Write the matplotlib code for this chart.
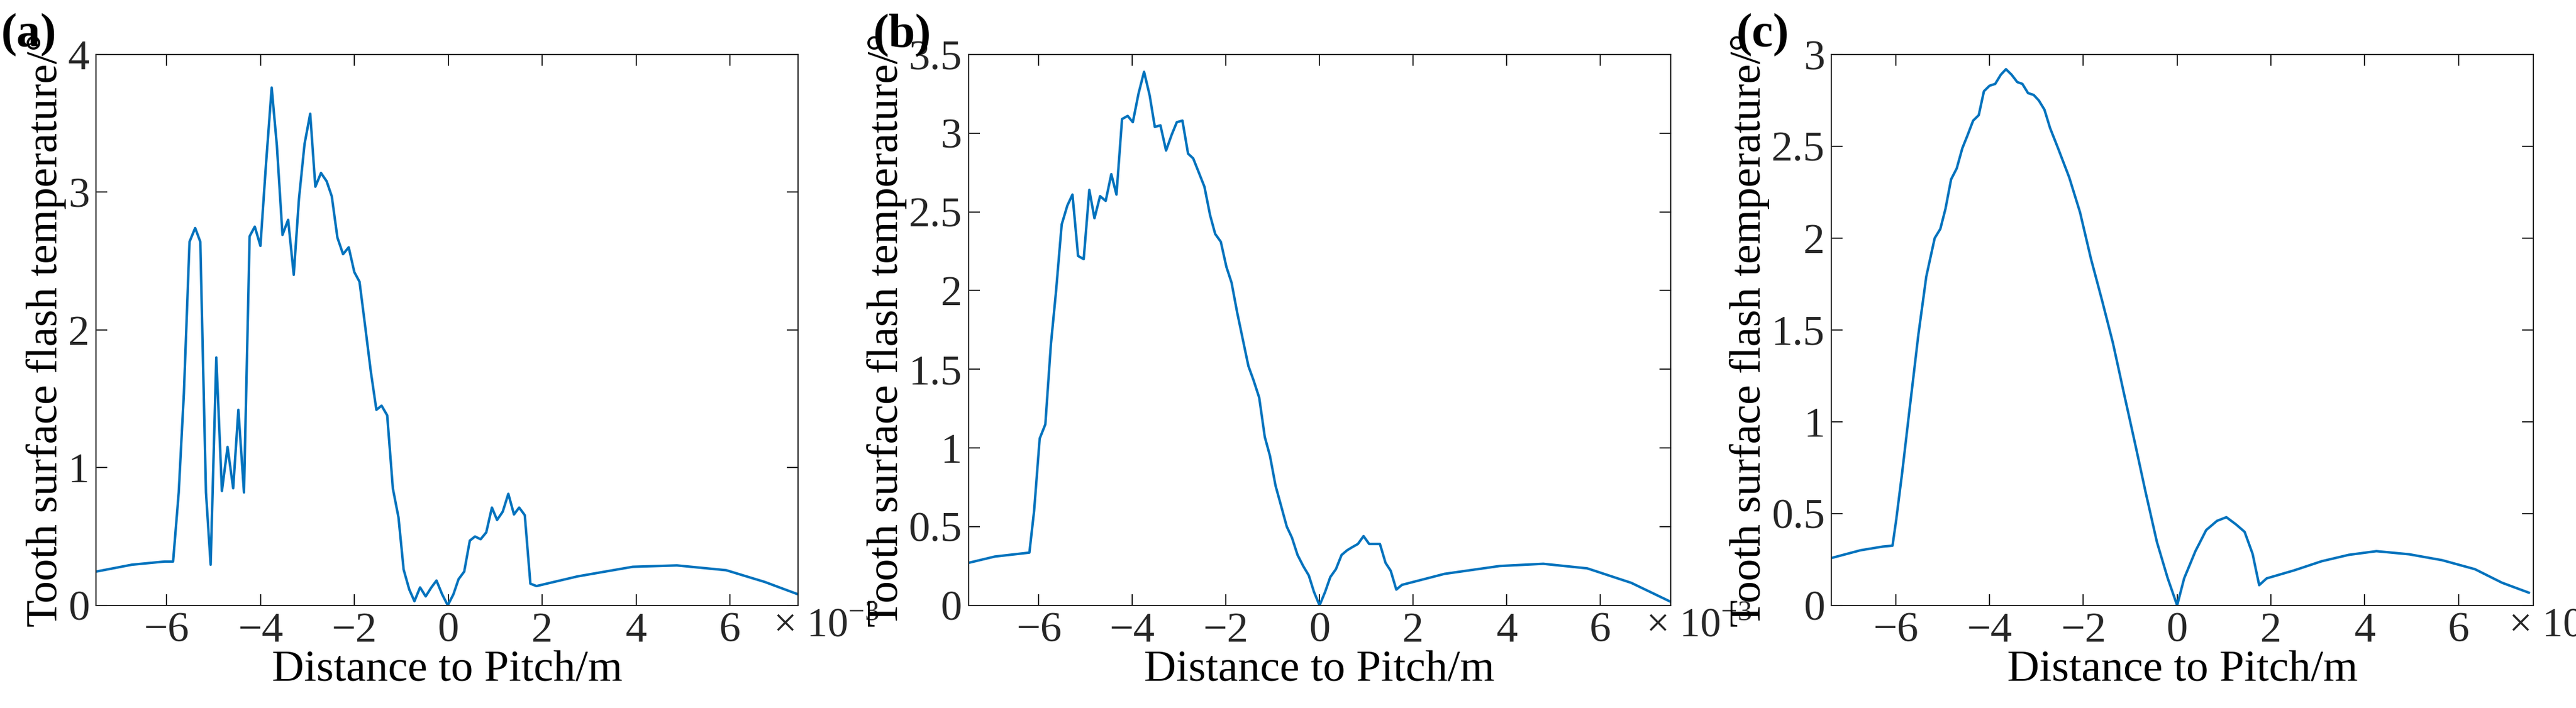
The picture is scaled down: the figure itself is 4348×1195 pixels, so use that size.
import matplotlib
matplotlib.use('Agg')

import numpy as np
import matplotlib.pyplot as plt

plt.rcParams['font.family'] = 'serif'
plt.rcParams['font.serif'] = ['Liberation Serif', 'DejaVu Serif']
plt.rcParams['mathtext.fontset'] = 'custom'
plt.rcParams['mathtext.rm'] = 'Liberation Serif'

# Datos (x en 1e-3 m, y en grados)
x_a = [-7.5, -6.74, -6.04, -5.86, -5.74, -5.63, -5.51, -5.39, -5.28, -5.16, -5.06, -4.94, -4.82,
       -4.70, -4.58, -4.47, -4.35, -4.23, -4.12, -4.0, -3.88, -3.76, -3.65, -3.53, -3.41, -3.29,
       -3.18, -3.06, -2.94, -2.83, -2.71, -2.59, -2.48, -2.36, -2.24, -2.12, -2.0, -1.89, -1.77,
       -1.65, -1.53, -1.42, -1.30, -1.18, -1.06, -0.95, -0.83, -0.72, -0.60, -0.48, -0.36, -0.25,
       -0.13, -0.01, 0.11, 0.22, 0.34, 0.46, 0.57, 0.69, 0.81, 0.93, 1.04, 1.16, 1.28, 1.40, 1.51,
       1.63, 1.75, 1.88, 2.75, 3.93, 4.87, 5.92, 6.74, 7.45]
y_a = [0.245, 0.295, 0.318, 0.318, 0.82, 1.54, 2.64, 2.74, 2.64, 0.82, 0.295, 1.80, 0.83,
       1.15, 0.85, 1.42, 0.82, 2.68, 2.75, 2.61, 3.21, 3.76, 3.34, 2.69, 2.80, 2.40,
       2.95, 3.35, 3.57, 3.04, 3.14, 3.08, 2.97, 2.67, 2.55, 2.60, 2.42, 2.35, 2.03,
       1.70, 1.42, 1.45, 1.38, 0.85, 0.64, 0.26, 0.115, 0.03, 0.13, 0.065, 0.13, 0.18,
       0.08, 0.0, 0.08, 0.19, 0.245, 0.47, 0.50, 0.48, 0.53, 0.71, 0.62, 0.68, 0.81, 0.66, 0.71,
       0.655, 0.157, 0.14, 0.21, 0.28, 0.29, 0.255, 0.17, 0.08]

x_b = [-7.5, -6.94, -6.2, -6.1, -5.98, -5.86, -5.74, -5.63, -5.51, -5.39, -5.28, -5.16, -5.04,
       -4.92, -4.81, -4.69, -4.57, -4.45, -4.34, -4.22, -4.10, -3.99, -3.87, -3.75, -3.63, -3.52,
       -3.40, -3.28, -3.16, -3.05, -2.93, -2.81, -2.70, -2.58, -2.46, -2.34, -2.23, -2.11, -1.99,
       -1.88, -1.76, -1.64, -1.52, -1.41, -1.29, -1.17, -1.06, -0.94, -0.82, -0.70, -0.59, -0.47,
       -0.35, -0.23, -0.12, 0.0, 0.12, 0.23, 0.35, 0.47, 0.59, 0.70, 0.82, 0.94, 1.06, 1.17, 1.29,
       1.41, 1.52, 1.64, 1.76, 2.67, 3.85, 4.78, 5.72, 6.66, 7.5]
y_b = [0.27, 0.31, 0.335, 0.60, 1.06, 1.15, 1.66, 2.0, 2.42, 2.54, 2.61, 2.22, 2.20,
       2.64, 2.46, 2.60, 2.57, 2.74, 2.61, 3.09, 3.11, 3.07, 3.25, 3.39, 3.24, 3.04,
       3.05, 2.89, 2.99, 3.07, 3.08, 2.87, 2.84, 2.75, 2.66, 2.48, 2.36, 2.31, 2.15,
       2.05, 1.86, 1.69, 1.52, 1.43, 1.32, 1.07, 0.95, 0.76, 0.63, 0.50, 0.43, 0.32,
       0.25, 0.19, 0.086, 0.0, 0.086, 0.18, 0.23, 0.32, 0.35, 0.37, 0.39, 0.44, 0.39, 0.39, 0.39,
       0.27, 0.22, 0.10, 0.13, 0.20, 0.25, 0.264, 0.235, 0.143, 0.023]

x_c = [-7.37, -6.75, -6.28, -6.07, -5.99, -5.87, -5.70, -5.52, -5.35, -5.17, -5.05, -4.94, -4.82,
       -4.70, -4.58, -4.47, -4.35, -4.23, -4.12, -4.0, -3.88, -3.76, -3.65, -3.53, -3.41, -3.30,
       -3.18, -3.06, -2.95, -2.83, -2.71, -2.54, -2.30, -2.07, -1.84, -1.60, -1.37, -1.13, -0.90,
       -0.67, -0.43, -0.20, 0.0, 0.15, 0.39, 0.62, 0.85, 1.05, 1.26, 1.44, 1.61, 1.75, 1.91,
       2.49, 3.08, 3.66, 4.25, 4.95, 5.65, 6.35, 6.93, 7.50]
y_c = [0.258, 0.30, 0.32, 0.325, 0.467, 0.71, 1.08, 1.47, 1.79, 2.0, 2.05, 2.16, 2.32,
       2.38, 2.49, 2.56, 2.64, 2.67, 2.80, 2.83, 2.84, 2.89, 2.92, 2.89, 2.85, 2.84,
       2.79, 2.78, 2.75, 2.70, 2.60, 2.49, 2.33, 2.14, 1.89, 1.66, 1.43, 1.15, 0.885,
       0.614, 0.344, 0.147, 0.0, 0.147, 0.295, 0.41, 0.46, 0.48, 0.44, 0.40, 0.28, 0.11, 0.147,
       0.19, 0.24, 0.275, 0.295, 0.278, 0.246, 0.197, 0.123, 0.069]

paneles = [
    ('(a)', x_a, y_a, (-7.5, 7.45), 4, np.arange(0, 4.1, 1), ['0', '1', '2', '3', '4'], 0.0373),
    ('(b)', x_b, y_b, (-7.5, 7.5), 3.5, np.arange(0, 3.6, 0.5),
     ['0', '0.5', '1', '1.5', '2', '2.5', '3', '3.5'], 0.376),
    ('(c)', x_c, y_c, (-7.37, 7.6), 3, np.arange(0, 3.1, 0.5),
     ['0', '0.5', '1', '1.5', '2', '2.5', '3'], 0.711),
]

fig = plt.figure(figsize=(43.48, 11.95), dpi=100)
for etiqueta, xs, ys, xlim, ymax, yt, ytl, izq in paneles:
    ax = fig.add_axes([izq, 0.145, 0.2725, 0.778])
    ax.plot(xs, ys, color='#0072BD', lw=3)
    ax.set_xlim(*xlim)
    ax.set_ylim(0, ymax)
    ax.set_xticks([-6, -4, -2, 0, 2, 4, 6])
    ax.set_xticklabels(['\u22126', '\u22124', '\u22122', '0', '2', '4', '6'])
    ax.set_yticks(yt)
    ax.set_yticklabels(ytl)
    ax.tick_params(direction='in', top=True, right=True, length=14, width=1.5,
                   labelsize=52, colors='#262626', pad=8)
    for s in ax.spines.values():
        s.set_linewidth(1.5)
        s.set_color('#262626')
    ax.set_xlabel('Distance to Pitch/m', fontsize=54, labelpad=0)
    ax.set_ylabel('Tooth surface flash temperature/\u00b0', fontsize=54, labelpad=2)
    ax.text(1.04, -0.005, '\u00d7 10$^{-3}$', transform=ax.transAxes, fontsize=50,
            ha='center', va='top', color='#262626')
    fig.text(izq - 0.037, 0.95, etiqueta, fontsize=58, fontweight='bold', va='center', ha='left')

fig.savefig('out.png', dpi=100)
